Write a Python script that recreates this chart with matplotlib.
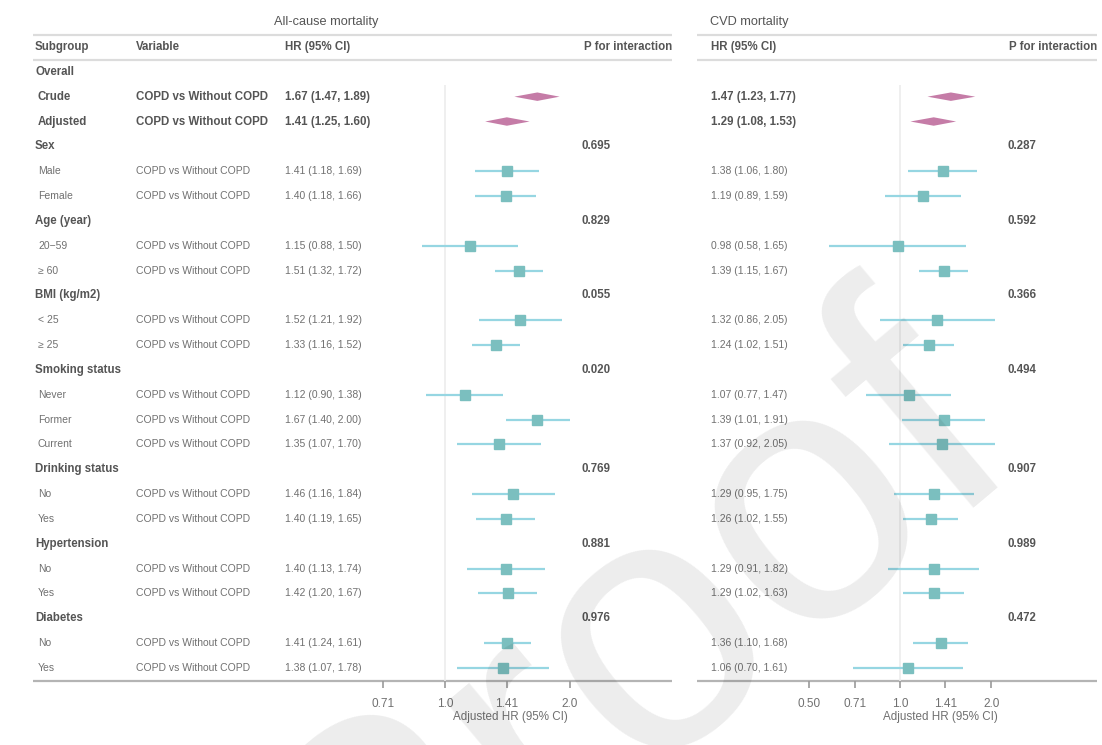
import matplotlib.pyplot as plt
import numpy as np

plt.rcParams["font.family"] = ["Liberation Sans", "DejaVu Sans"]

# rows of the forest table (kind: g = group header, o = overall row, l = level row)
subgroups = ["Overall", "Crude", "Adjusted", "Sex", "Male", "Female",
             "Age (year)", "20\u221259", "\u2265 60", "BMI (kg/m2)", "< 25", "\u2265 25",
             "Smoking status", "Never", "Former", "Current",
             "Drinking status", "No", "Yes", "Hypertension", "No", "Yes",
             "Diabetes", "No", "Yes"]
kinds = ["g", "o", "o", "g", "l", "l", "g", "l", "l", "g", "l", "l",
         "g", "l", "l", "l", "g", "l", "l", "g", "l", "l", "g", "l", "l"]
variable = "COPD vs Without COPD"

nan = np.nan
all_hr = [nan, 1.67, 1.41, nan, 1.41, 1.40, nan, 1.15, 1.51, nan, 1.52, 1.33,
          nan, 1.12, 1.67, 1.35, nan, 1.46, 1.40, nan, 1.40, 1.42, nan, 1.41, 1.38]
all_lo = [nan, 1.47, 1.25, nan, 1.18, 1.18, nan, 0.88, 1.32, nan, 1.21, 1.16,
          nan, 0.90, 1.40, 1.07, nan, 1.16, 1.19, nan, 1.13, 1.20, nan, 1.24, 1.07]
all_hi = [nan, 1.89, 1.60, nan, 1.69, 1.66, nan, 1.50, 1.72, nan, 1.92, 1.52,
          nan, 1.38, 2.00, 1.70, nan, 1.84, 1.65, nan, 1.74, 1.67, nan, 1.61, 1.78]
all_p = [nan, nan, nan, 0.695, nan, nan, 0.829, nan, nan, 0.055, nan, nan,
         0.020, nan, nan, nan, 0.769, nan, nan, 0.881, nan, nan, 0.976, nan, nan]

cvd_hr = [nan, 1.47, 1.29, nan, 1.38, 1.19, nan, 0.98, 1.39, nan, 1.32, 1.24,
          nan, 1.07, 1.39, 1.37, nan, 1.29, 1.26, nan, 1.29, 1.29, nan, 1.36, 1.06]
cvd_lo = [nan, 1.23, 1.08, nan, 1.06, 0.89, nan, 0.58, 1.15, nan, 0.86, 1.02,
          nan, 0.77, 1.01, 0.92, nan, 0.95, 1.02, nan, 0.91, 1.02, nan, 1.10, 0.70]
cvd_hi = [nan, 1.77, 1.53, nan, 1.80, 1.59, nan, 1.65, 1.67, nan, 2.05, 1.51,
          nan, 1.47, 1.91, 2.05, nan, 1.75, 1.55, nan, 1.82, 1.63, nan, 1.68, 1.61]
cvd_p = [nan, nan, nan, 0.287, nan, nan, 0.592, nan, nan, 0.366, nan, nan,
         0.494, nan, nan, nan, 0.907, nan, nan, 0.989, nan, nan, 0.472, nan, nan]

all_ticks = [0.71, 1.0, 1.41, 2.0]
all_tick_labels = ["0.71", "1.0", "1.41", "2.0"]
cvd_ticks = [0.50, 0.71, 1.0, 1.41, 2.0]
cvd_tick_labels = ["0.50", "0.71", "1.0", "1.41", "2.0"]

W, H = 1102, 745
ROW0, ROWH = 47, 24.84          # pixel y of header row and row pitch
DARK, MID = "#555555", "#707070"
LINE = "#dcdcdc"
CI_COL, BOX_COL, DIA_COL = "#96d6e2", "#7bbfbf", "#c57ca7"


def row_of(py):
    return (py - ROW0) / ROWH


fig = plt.figure(figsize=(W / 100, H / 100), dpi=100)
tab = fig.add_axes([0, 0, 1, 1])
tab.set_xlim(0, W)
tab.set_ylim(row_of(H), row_of(0))
tab.axis("off")

# header lines and bottom border for the two panels
for x0, x1 in [(33, 672), (697, 1097)]:
    tab.hlines([row_of(35), row_of(60)], x0, x1, color=LINE, lw=1.6)
    tab.hlines(row_of(681), x0, x1, color="#b4b4b4", lw=1.6)

tab.text(326, row_of(22), "All-cause mortality", ha="center", va="center",
         fontsize=9.2, color=DARK)
tab.text(710, row_of(22), "CVD mortality", ha="left", va="center",
         fontsize=9.2, color=DARK)

hdr = dict(va="center", fontsize=8.3, fontweight="bold", color=DARK)
tab.text(35, 0, "Subgroup", **hdr)
tab.text(136, 0, "Variable", **hdr)
tab.text(285, 0, "HR (95% CI)", **hdr)
tab.text(672, 0, "P for interaction", ha="right", **hdr)
tab.text(711, 0, "HR (95% CI)", **hdr)
tab.text(1097, 0, "P for interaction", ha="right", **hdr)


def fmt_ci(hr, lo, hi):
    return f"{hr:.2f} ({lo:.2f}, {hi:.2f})"


for i, (lab, kind) in enumerate(zip(subgroups, kinds)):
    r = i + 1
    if kind == "g":
        tab.text(35, r, lab, **hdr)
        if not np.isnan(all_p[i]):
            tab.text(582, r, f"{all_p[i]:.3f}", **hdr)
            tab.text(1008, r, f"{cvd_p[i]:.3f}", **hdr)
        continue
    if kind == "o":
        st = dict(va="center", fontsize=8.3, fontweight="bold", color=DARK)
    else:
        st = dict(va="center", fontsize=7.5, color=MID)
    tab.text(38, r, lab, **st)
    tab.text(136, r, variable, **st)
    tab.text(285, r, fmt_ci(all_hr[i], all_lo[i], all_hi[i]), **st)
    tab.text(711, r, fmt_ci(cvd_hr[i], cvd_lo[i], cvd_hi[i]), **st)


def forest(px0, px1, x_one, scale, hr, lo, hi, ticks, tick_labels):
    # axes spanning pixel columns px0..px1, log2 scale with HR=1 at x_one
    left, width = px0 / W, (px1 - px0) / W
    bottom, height = (H - 681) / H, (681 - 85) / H
    ax = fig.add_axes([left, bottom, width, height])
    ax.patch.set_alpha(0)
    ax.set_xscale("log", base=2)
    ax.set_xlim(2 ** ((px0 - x_one) / scale), 2 ** ((px1 - x_one) / scale))
    ax.set_ylim(row_of(681), row_of(85))
    for s in ax.spines.values():
        s.set_visible(False)
    ax.axvline(1.0, color="#ececec", lw=1.2, zorder=0)
    rows = np.arange(1, len(hr) + 1)
    hr, lo, hi = map(np.asarray, (hr, lo, hi))
    for k, r in enumerate(rows):
        if np.isnan(hr[k]):
            continue
        if kinds[k] == "o":
            ax.fill([lo[k], hr[k], hi[k], hr[k]], [r, r - 0.17, r, r + 0.17],
                    color=DIA_COL, lw=0, zorder=3)
        else:
            ax.hlines(r, lo[k], hi[k], color=CI_COL, lw=1.6, zorder=2)
            ax.plot(hr[k], r, "s", ms=6.6, color=BOX_COL, mec=BOX_COL, zorder=3)
    ax.set_yticks([])
    ax.set_xticks(ticks)
    ax.set_xticklabels(tick_labels)
    ax.minorticks_off()
    ax.tick_params(axis="x", length=5, width=1.2, color="#9a9a9a", pad=7,
                   labelsize=8.5, labelcolor=MID)
    ax.set_xlabel("Adjusted HR (95% CI)", fontsize=8.4, color=MID, labelpad=1)
    return ax


forest(360, 660, 445, 124.8, all_hr, all_lo, all_hi, all_ticks, all_tick_labels)
forest(790, 1090, 900.3, 91.0, cvd_hr, cvd_lo, cvd_hi, cvd_ticks, cvd_tick_labels)

# watermark
fig.text(630 / W, 1 - 650 / H, "Proof", rotation=40, ha="center", va="center",
         fontsize=260, color="black", alpha=0.075, zorder=10)

fig.savefig("out.png", dpi=100)
